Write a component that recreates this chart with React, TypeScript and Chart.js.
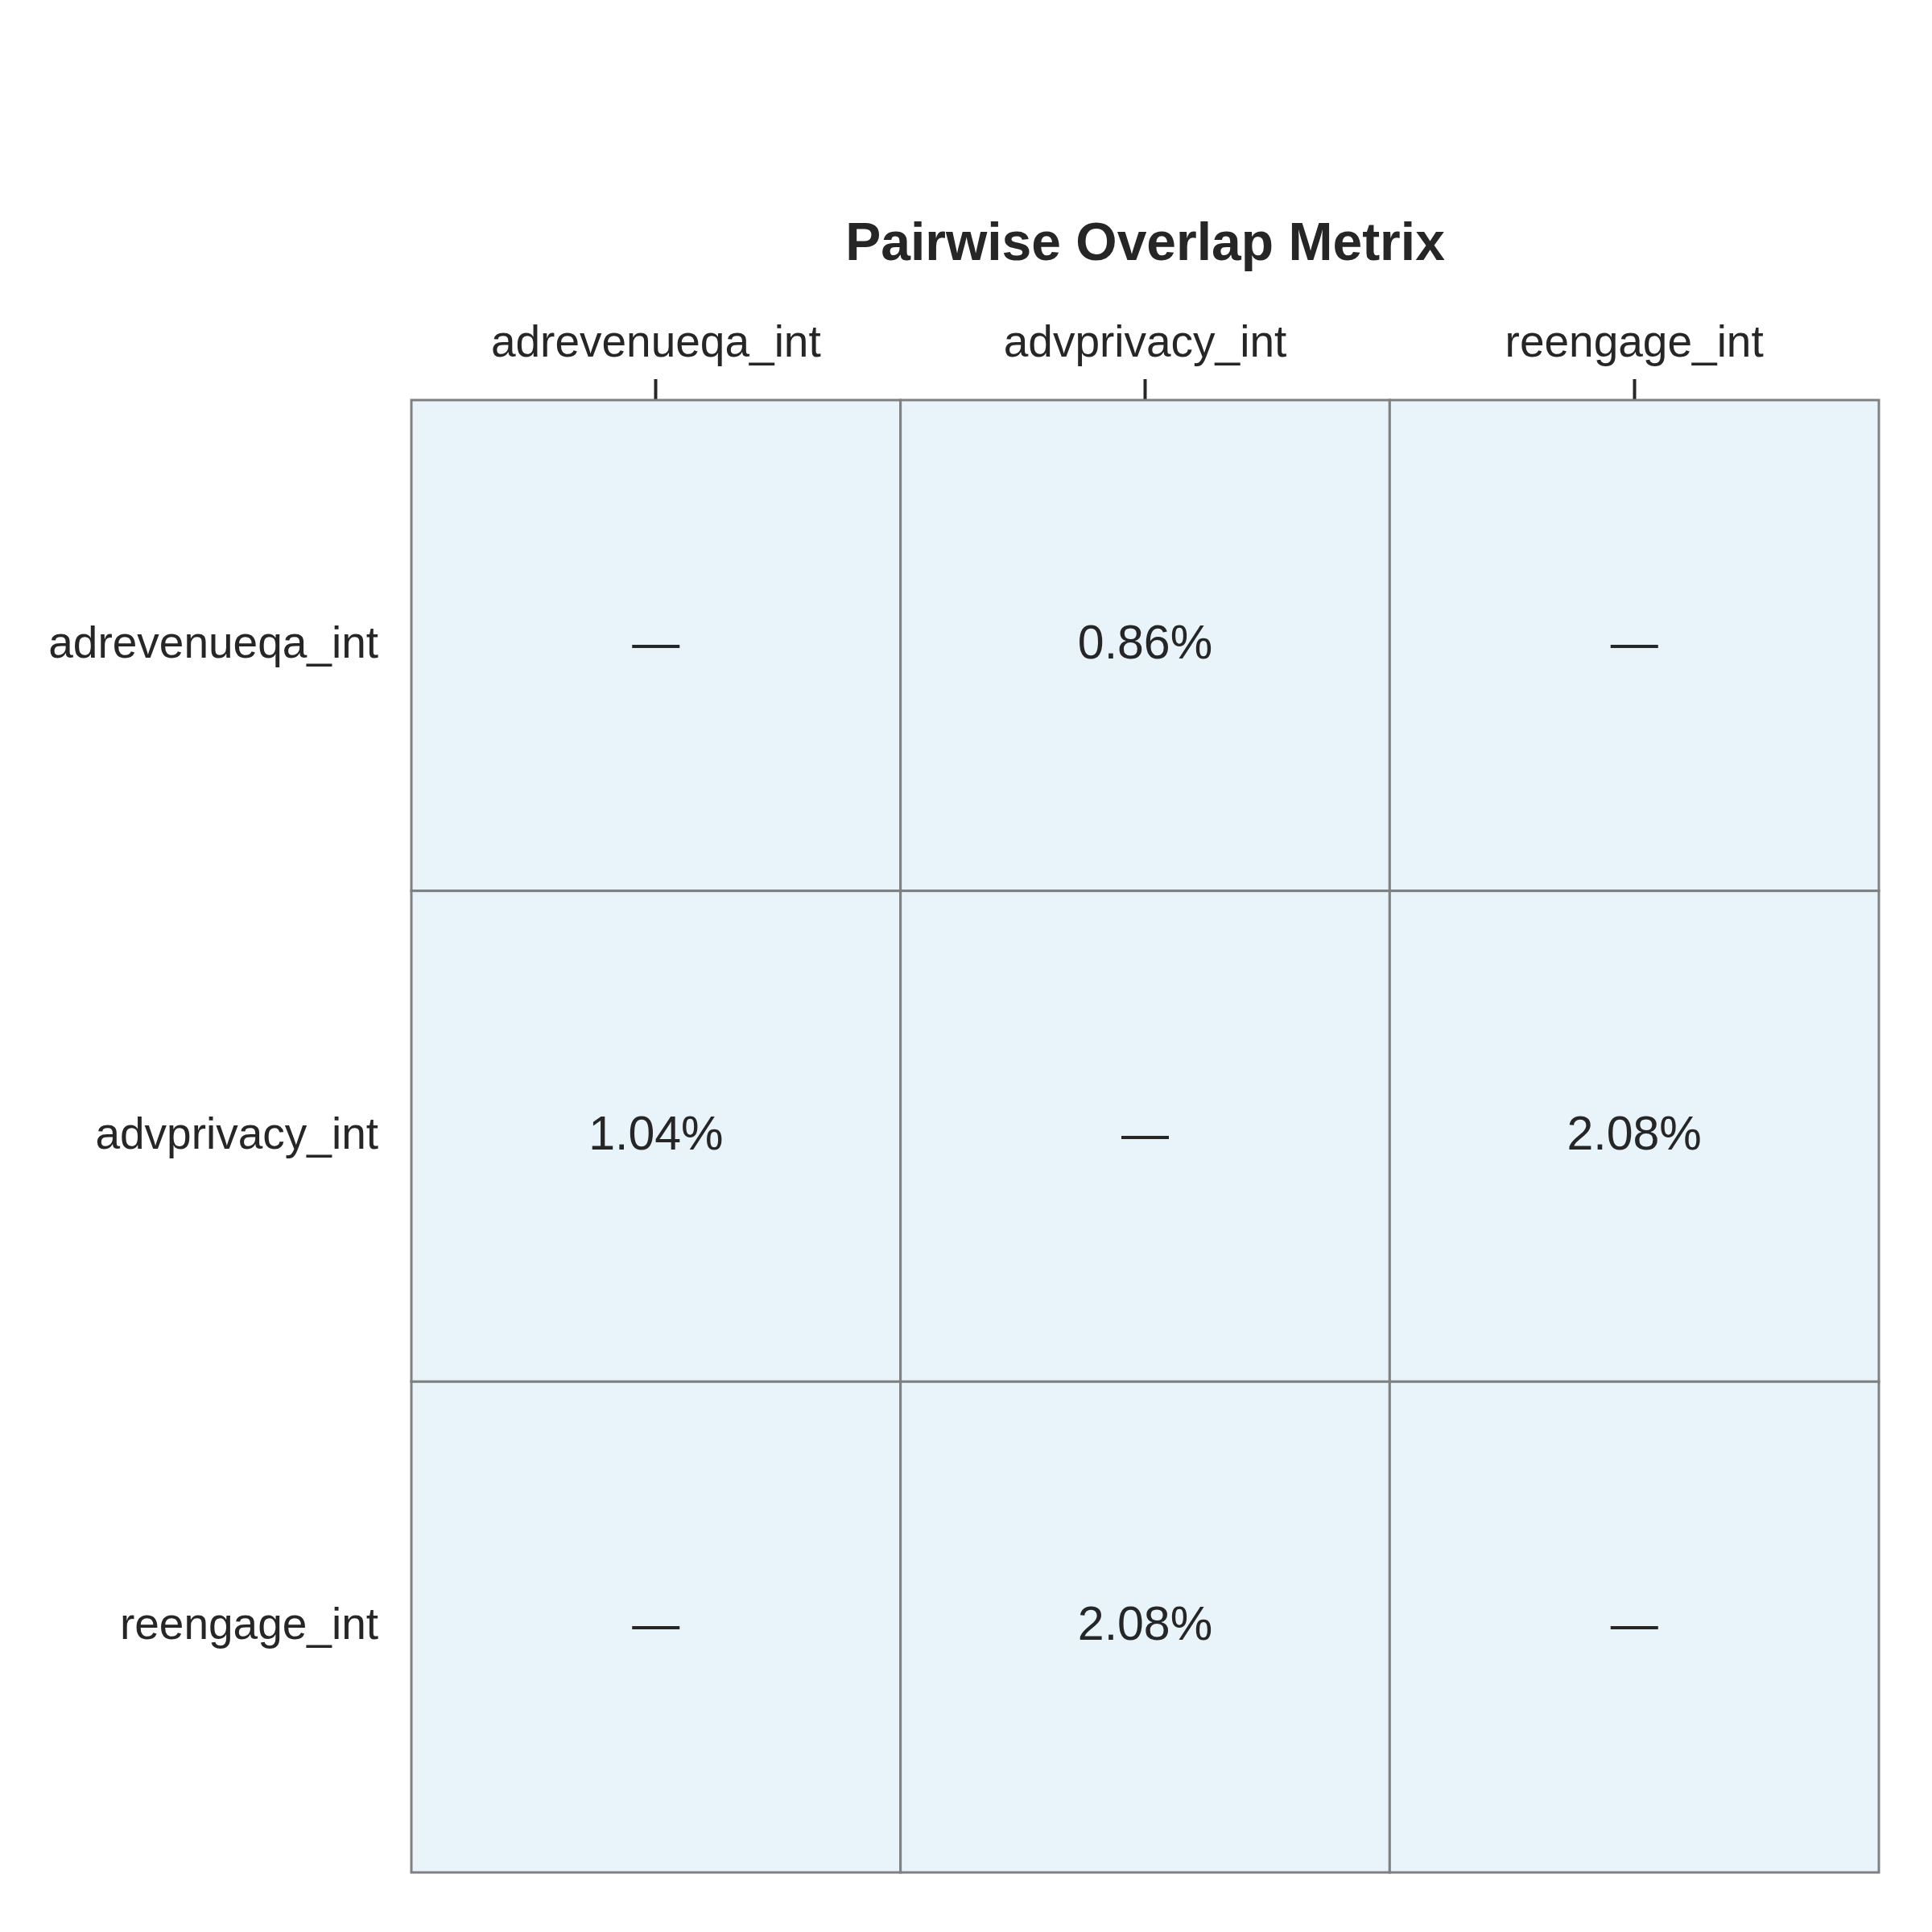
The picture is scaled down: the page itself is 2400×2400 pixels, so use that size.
import React, { useEffect, useRef } from 'react';
import Chart from 'chart.js/auto';

const labels = ['adrevenueqa_int', 'advprivacy_int', 'reengage_int'];
// row-major: rows = y labels, cols = x labels; null = no value
const overlap: (number | null)[][] = [
  [null, 0.86, null],
  [1.04, null, 2.08],
  [null, 2.08, null],
];
const title = 'Pairwise Overlap Metrix';

const FONT = "Arial, 'Liberation Sans', Helvetica, sans-serif";

const App = () => {
  const chartRef = useRef<HTMLCanvasElement>(null);
  const chartInstance = useRef<Chart>();

  useEffect(() => {
    document.body.style.margin = '0';
    if (chartInstance.current) chartInstance.current.destroy();
    const ctx = chartRef.current?.getContext('2d');
    if (!ctx) return;

    const points: { x: number; y: number; v: number | null }[] = [];
    overlap.forEach((row, r) =>
      row.forEach((v, c) => points.push({ x: c + 0.5, y: r + 0.5, v }))
    );

    const cellPlugin = {
      id: 'cells',
      beforeDatasetsDraw(chart: any) {
        const { ctx: c, scales } = chart;
        const xs = scales.x;
        const ys = scales.y;
        c.save();
        points.forEach((p) => {
          const x0 = xs.getPixelForValue(p.x - 0.5);
          const x1 = xs.getPixelForValue(p.x + 0.5);
          const y0 = ys.getPixelForValue(p.y - 0.5);
          const y1 = ys.getPixelForValue(p.y + 0.5);
          c.fillStyle = '#e8f3fa';
          c.fillRect(x0, y0, x1 - x0, y1 - y0);
          c.strokeStyle = '#808080';
          c.lineWidth = 3;
          c.strokeRect(x0, y0, x1 - x0, y1 - y0);
          c.fillStyle = '#262626';
          c.font = `59px ${FONT}`;
          c.textAlign = 'center';
          c.textBaseline = 'middle';
          c.fillText(p.v == null ? '—' : `${p.v.toFixed(2)}%`, (x0 + x1) / 2, (y0 + y1) / 2);
        });
        c.font = `bold 66px ${FONT}`;
        c.textAlign = 'center';
        c.textBaseline = 'middle';
        c.fillStyle = '#262626';
        c.fillText(title, (chart.chartArea.left + chart.chartArea.right) / 2, 305);
        c.restore();
      },
    };

    const tickVals = labels.map((_, i) => i + 0.5);

    chartInstance.current = new Chart(ctx, {
      type: 'scatter',
      data: {
        datasets: [{ data: points, pointRadius: 0, pointHoverRadius: 0 }],
      },
      plugins: [cellPlugin],
      options: {
        animation: false,
        responsive: false,
        devicePixelRatio: 1,
        events: [],
        layout: { padding: { top: 0, right: 66, bottom: 69, left: 0 } },
        plugins: { legend: { display: false }, tooltip: { enabled: false } },
        scales: {
          x: {
            type: 'linear',
            position: 'top',
            min: 0,
            max: 3,
            afterBuildTicks: (s: any) => {
              s.ticks = tickVals.map((value) => ({ value }));
            },
            afterFit: (s: any) => {
              s.height = 497;
            },
            border: { display: false },
            grid: { drawOnChartArea: false, tickLength: 26, tickWidth: 4, color: '#262626' },
            ticks: {
              padding: 10,
              color: '#262626',
              font: { size: 55, family: FONT },
              callback: (v: any) => labels[Math.floor(Number(v))] ?? '',
            },
          },
          y: {
            type: 'linear',
            reverse: true,
            min: 0,
            max: 3,
            afterBuildTicks: (s: any) => {
              s.ticks = tickVals.map((value) => ({ value }));
            },
            afterFit: (s: any) => {
              s.width = 511;
            },
            border: { display: false },
            grid: { display: false, drawTicks: false },
            ticks: {
              padding: 41,
              color: '#262626',
              font: { size: 55, family: FONT },
              callback: (v: any) => labels[Math.floor(Number(v))] ?? '',
            },
          },
        },
      },
    });

    return () => {
      if (chartInstance.current) chartInstance.current.destroy();
    };
  }, []);

  return (
    <div style={{ width: 2400, height: 2400, background: '#fff' }}>
      <canvas ref={chartRef} width={2400} height={2400} style={{ width: 2400, height: 2400 }} />
    </div>
  );
};

export default App;
